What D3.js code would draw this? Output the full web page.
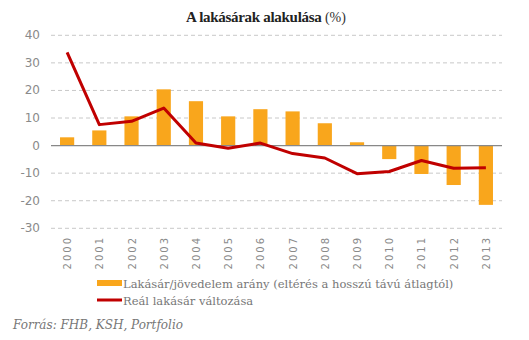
<!DOCTYPE html>
<html><head><meta charset="utf-8">
<script src="https://cdn.jsdelivr.net/npm/d3@7"></script>
<style>body{margin:0;background:#fff;}</style>
</head><body><svg id="c" width="529" height="340"></svg>
<script>
const years = ["2000","2001","2002","2003","2004","2005","2006","2007","2008","2009","2010","2011","2012","2013"];
const ratioValues = [3.0,5.5,10.6,20.4,16.1,10.6,13.2,12.4,8.1,1.2,-4.9,-10.3,-14.3,-21.5];
const realPriceValues = [33.8,7.6,8.8,13.6,0.9,-1.0,0.9,-2.9,-4.5,-10.2,-9.4,-5.4,-8.2,-8.0];
const yTicks = [40,30,20,10,0,-10,-20,-30];
const seriesNames = ["Lakásár/jövedelem arány (eltérés a hosszú távú átlagtól)","Reál lakásár változása"];
const titleMain = "A lakásárak alakulása";
const titleUnit = "(%)";
const sourceText = "Forrás: FHB, KSH, Portfolio";

const svg = d3.select("#c");
const x = d3.scaleBand().domain(years).range([51,502]).paddingInner(0.56).paddingOuter(0.28);
const y = d3.scaleLinear().domain([-30,40]).range([228.3,35.3]);
const orange = "#F9A61C", red = "#C00000";

// grid
svg.append("g").selectAll("line").data(yTicks.filter(d=>d!==0)).join("line")
  .attr("x1",51).attr("x2",502).attr("y1",d=>y(d)).attr("y2",d=>y(d))
  .attr("stroke","#c8c8c8").attr("stroke-width",1).attr("stroke-dasharray","4,3");

// y labels
svg.append("g").selectAll("text").data(yTicks).join("text")
  .attr("x",40).attr("y",d=>y(d)+4).attr("text-anchor","end")
  .attr("font-family","DejaVu Sans").attr("font-size",12).attr("fill","#8a8a8a")
  .text(d=>d);

// bars
svg.append("g").selectAll("rect").data(years).join("rect")
  .attr("x",d=>x(d)).attr("width",x.bandwidth())
  .attr("y",(d,i)=>y(Math.max(0,ratioValues[i])))
  .attr("height",(d,i)=>Math.abs(y(ratioValues[i])-y(0)))
  .attr("fill",orange);

// zero line
svg.append("line").attr("x1",51).attr("x2",502).attr("y1",y(0)).attr("y2",y(0))
  .attr("stroke","#888").attr("stroke-width",1.3);

// line
const line = d3.line().x((d,i)=>x(years[i])+x.bandwidth()/2).y(d=>y(d));
svg.append("path").datum(realPriceValues).attr("d",line)
  .attr("fill","none").attr("stroke",red).attr("stroke-width",3).attr("stroke-linejoin","round");

// x labels
svg.append("g").selectAll("text").data(years).join("text")
  .attr("transform",d=>`translate(${x(d)+x.bandwidth()/2+4},236) rotate(-90)`)
  .attr("text-anchor","end").attr("font-family","DejaVu Sans").attr("font-size",10)
  .attr("letter-spacing","2px").attr("fill","#8a8a8a").text(d=>d);

// title
const t = svg.append("text").attr("x",266).attr("y",22).attr("text-anchor","middle")
  .attr("font-family","Liberation Serif").attr("fill","#222");
t.append("tspan").attr("font-weight","bold").attr("font-size",15).attr("letter-spacing","-0.3px").text(titleMain);
t.append("tspan").attr("font-size",14).attr("fill","#333").text(" "+titleUnit);

// legend
svg.append("rect").attr("x",97).attr("y",280).attr("width",25).attr("height",6).attr("fill",orange);
svg.append("line").attr("x1",97).attr("x2",122).attr("y1",300).attr("y2",300).attr("stroke",red).attr("stroke-width",3);
svg.append("g").selectAll("text").data(seriesNames).join("text")
  .attr("x",123).attr("y",(d,i)=>288+i*17).attr("font-family","DejaVu Serif").attr("font-size",11.5)
  .attr("fill","#777").text(d=>d);

// source
svg.append("text").attr("x",13).attr("y",329).attr("font-family","DejaVu Serif").attr("font-style","italic")
  .attr("font-size",12).attr("fill","#777").text(sourceText);
</script></body></html>
